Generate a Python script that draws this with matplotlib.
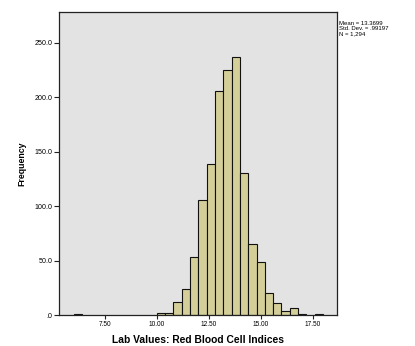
import matplotlib
matplotlib.use("Agg")
import matplotlib.pyplot as plt
from matplotlib.ticker import FixedLocator

plt.rcParams['font.family'] = ['Liberation Sans', 'DejaVu Sans']

bin_starts = [6.0, 10.0, 10.4, 10.8, 11.2, 11.6, 12.0, 12.4, 12.8, 13.2, 13.6,
              14.0, 14.4, 14.8, 15.2, 15.6, 16.0, 16.4, 16.8, 17.6]
counts = [1, 2, 2, 12, 24, 53, 106, 139, 206, 225, 237,
          130, 65, 49, 20, 11, 4, 6, 1, 1]
bin_width = 0.4
x_ticks = [7.5, 10.0, 12.5, 15.0, 17.5]
x_tick_labels = ["7.50", "10.00", "12.50", "15.00", "17.50"]
y_ticks = [0, 50, 100, 150, 200, 250]
y_tick_labels = [".0", "50.0", "100.0", "150.0", "200.0", "250.0"]
stats_text = "Mean = 13.3699\nStd. Dev. = .99197\nN = 1,294"

fig = plt.figure(figsize=(4.15, 3.46), dpi=100)
ax = fig.add_axes([59/415, 1-315/346, (337-59)/415, (315-12)/346])
ax.set_facecolor('#e3e3e3')
ax.bar(bin_starts, counts, width=bin_width, align='edge',
       color='#d4cf98', edgecolor='#111111', linewidth=0.8)
ax.set_xlim(5.30, 18.67)
ax.set_ylim(0, 278.2)
ax.xaxis.set_major_locator(FixedLocator(x_ticks))
ax.set_xticklabels(x_tick_labels)
ax.yaxis.set_major_locator(FixedLocator(y_ticks))
ax.set_yticklabels(y_tick_labels)
ax.tick_params(axis='x', labelsize=4.7, length=3, width=0.8, color='#222222', pad=1.5)
ax.tick_params(axis='y', labelsize=5.1, length=3.5, width=0.8, color='#222222', pad=1)
for s in ax.spines.values():
    s.set_color('#222222')
    s.set_linewidth(0.9)
ax.set_xlabel("Lab Values: Red Blood Cell Indices", fontsize=7.4, fontweight='bold', labelpad=5)
ax.set_ylabel("Frequency", fontsize=6.3, fontweight='bold', labelpad=6)
fig.text(339/415, 1-21/346, stats_text, fontsize=4.3, va='top', ha='left', linespacing=1.05)
fig.savefig("out.png", dpi=100)
